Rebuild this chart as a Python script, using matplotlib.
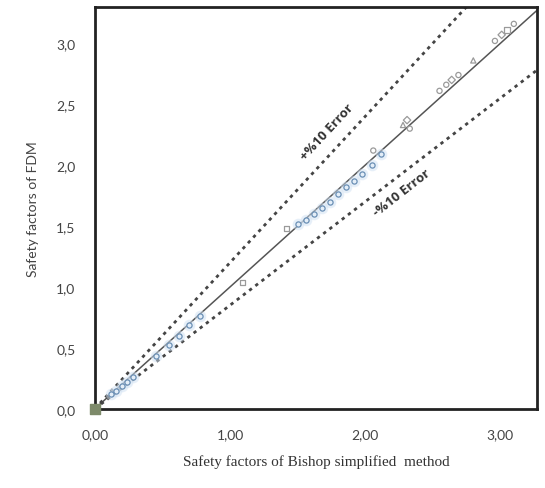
import matplotlib
matplotlib.use("Agg")
import matplotlib.pyplot as plt

# Data
bishop_blue = [0.12, 0.16, 0.20, 0.24, 0.28, 0.45, 0.55, 0.62, 0.70, 0.78,
               1.50, 1.56, 1.62, 1.68, 1.74, 1.80, 1.86, 1.92, 1.98, 2.05, 2.12]
fdm_blue = [0.12, 0.15, 0.19, 0.22, 0.26, 0.43, 0.52, 0.60, 0.69, 0.76,
            1.52, 1.55, 1.60, 1.65, 1.70, 1.76, 1.82, 1.87, 1.93, 2.00, 2.09]

bishop_grey = [1.09, 1.42, 2.06, 2.28, 2.31, 2.33, 2.55, 2.60, 2.64, 2.69,
               2.80, 2.96, 3.01, 3.05, 3.10]
fdm_grey = [1.04, 1.48, 2.12, 2.33, 2.37, 2.30, 2.61, 2.66, 2.70, 2.74,
            2.86, 3.02, 3.07, 3.11, 3.16]
grey_markers = ['s', 's', 'o', '^', 'D', 'o', 'o', 'o', 'D', 'o',
                '^', 'o', 'D', 's', 'o']

origin_x = [0.0]
origin_y = [0.0]

line_x = [0.0, 3.3]
upper_slope = 1.2
lower_slope = 0.85

xticks = [0, 1, 2, 3]
xtick_labels = ['0,00', '1,00', '2,00', '3,00']
yticks = [0, 0.5, 1.0, 1.5, 2.0, 2.5, 3.0]
ytick_labels = ['0,0', '0,5', '1,0', '1,5', '2,0', '2,5', '3,0']

fig = plt.figure(figsize=(5.45, 4.89), dpi=100)
ax = fig.add_axes([0.174, 0.162, 0.811, 0.822])

ax.plot(line_x, line_x, color='#555555', lw=1.1, zorder=2)
ax.plot(line_x, [v * upper_slope for v in line_x], color='#444444', lw=2.0,
        linestyle=(0, (1.2, 1.6)), zorder=2)
ax.plot(line_x, [v * lower_slope for v in line_x], color='#444444', lw=2.0,
        linestyle=(0, (1.2, 1.6)), zorder=2)

# faint bluish haze behind the blue cluster
ax.scatter(bishop_blue, fdm_blue, s=70, marker='o', color='#cfe0f2',
           alpha=0.5, linewidth=0, zorder=2.5)
ax.scatter(bishop_blue, fdm_blue, s=14, marker='o', facecolor='#e4eef8',
           edgecolor='#6a8fb5', linewidth=0.9, zorder=3)
for x, y, m in zip(bishop_grey, fdm_grey, grey_markers):
    ax.scatter([x], [y], s=14, marker=m, facecolor='none',
               edgecolor='#9a9a9a', linewidth=0.9, zorder=3)
ax.scatter(origin_x, origin_y, s=60, marker='s', color='#7d8a6a',
           zorder=4, clip_on=False)

ax.text(1.72, 2.28, '+%10 Error', rotation=47, ha='center', va='center',
        fontsize=9.5, color='#333333', family='Open Sans', fontweight='bold')
ax.text(2.27, 1.78, '-%10 Error', rotation=38, ha='center', va='center',
        fontsize=9.5, color='#333333', family='Open Sans', fontweight='bold')

ax.set_xlim(0, 3.27)
ax.set_ylim(0, 3.30)
ax.set_xticks(xticks)
ax.set_xticklabels(xtick_labels)
ax.set_yticks(yticks)
ax.set_yticklabels(ytick_labels)
ax.tick_params(length=0, labelsize=10, labelcolor='#444444')
ax.tick_params(axis='x', pad=14)
ax.tick_params(axis='y', pad=14)
for lbl in ax.get_xticklabels() + ax.get_yticklabels():
    lbl.set_family('Lato')

for sp in ax.spines.values():
    sp.set_linewidth(2.0)
    sp.set_color('#222222')

ax.set_xlabel('Safety factors of Bishop simplified  method', fontsize=11,
              family='Liberation Serif', color='#333333', labelpad=10)
ax.set_ylabel('Safety factors of FDM', fontsize=10, family='Lato',
              color='#444444', labelpad=12)

fig.savefig('out.png', dpi=100)
